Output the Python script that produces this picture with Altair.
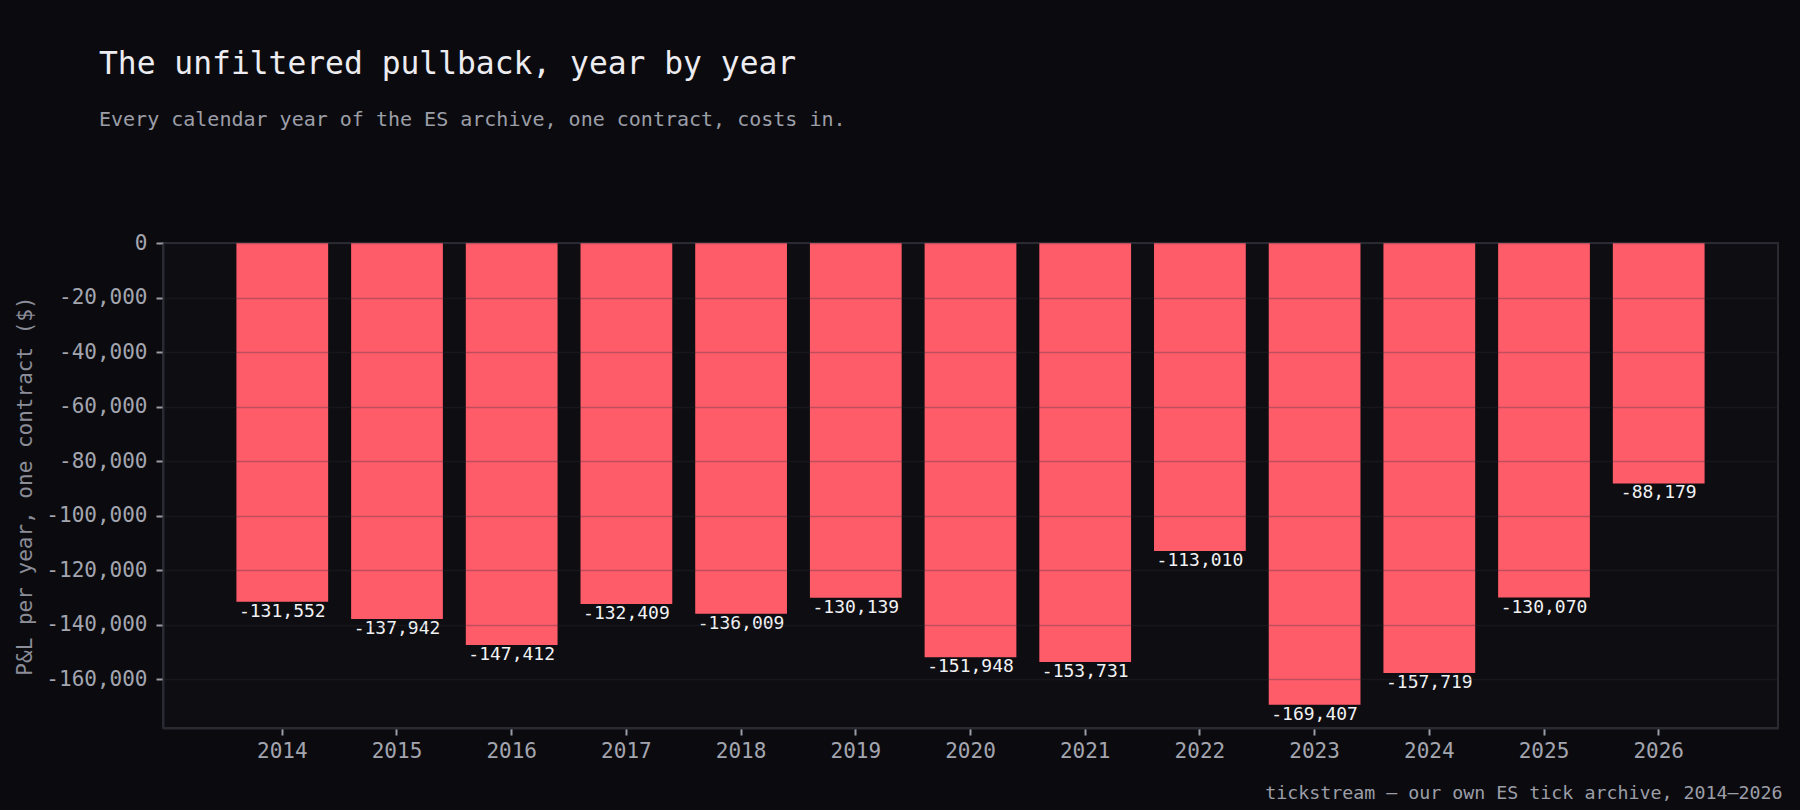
import altair as alt
import jinja2
import pandas as pd

FONT = "DejaVu Sans Mono"
BG = "#0b0b0f"

years = [2014, 2015, 2016, 2017, 2018, 2019, 2020, 2021, 2022, 2023, 2024, 2025, 2026]
pnl = [-131552, -137942, -147412, -132409, -136009, -130139, -151948,
       -153731, -113010, -169407, -157719, -130070, -88179]
y_ticks = [0, -20000, -40000, -60000, -80000, -100000, -120000, -140000, -160000]

df = pd.DataFrame({
    "year": years,
    "pnl": pnl,
    "label": [f"{v:,}" for v in pnl],
})

W, H = 1615, 485

x_enc = alt.X(
    "year:O",
    scale=alt.Scale(paddingInner=0.2, paddingOuter=0.64),
    axis=alt.Axis(
        title="tickstream \u2014 our own ES tick archive, 2014\u20132026",
        titleAnchor="end", titleAlign="right", titleBaseline="alphabetic",
        titleX=W + 4, titleY=70, titleFontSize=18.3, titleColor="#9c9ea8",
        titleFont=FONT, titleFontWeight="normal",
        labelAngle=0, labelPadding=5,
    ),
)

y_scale = alt.Scale(domain=[-177900, 0], nice=False)

bars = alt.Chart(df).mark_bar(color="#ff5c6a").encode(
    x=x_enc,
    y=alt.Y(
        "pnl:Q",
        scale=y_scale,
        axis=alt.Axis(
            values=y_ticks,
            labelExpr="replace(format(datum.value, ','), '\u2212', '-')",
            title="P&L per year, one contract ($)",
            titleFontSize=21, titleColor="#8b8d98", titleFont=FONT,
            titleFontWeight="normal", titlePadding=10,
            labelPadding=9, grid=True, zindex=1,
        ),
    ),
)

labels = alt.Chart(df).mark_text(
    baseline="top", align="center", dy=1, font=FONT, fontSize=18, color="#f2f2f4"
).encode(
    x=alt.X("year:O"),
    y=alt.Y("pnl:Q", scale=y_scale),
    text="label:N",
)

chart = (bars + labels).properties(
    width=W,
    height=H,
    autosize=alt.AutoSizeParams(type="none"),
    padding={"left": 155, "top": 235, "right": 14, "bottom": 74},
    background=BG,
    title=alt.TitleParams(
        text="The unfiltered pullback, year by year",
        subtitle="Every calendar year of the ES archive, one contract, costs in.",
        anchor="start", frame="group", dx=-64, offset=102,
        font=FONT, fontSize=31.3, fontWeight="normal", color="#ececf1",
        subtitleFont=FONT, subtitleFontSize=20, subtitleColor="#9c9ea8",
        subtitlePadding=30,
    ),
).configure_view(
    stroke="#2a2a33", strokeWidth=2, fill="#0d0d12"
).configure_axis(
    labelFont=FONT, labelFontSize=21, labelColor="#a3a5af",
    tickColor="#9a9ca6", tickSize=7, tickWidth=2,
    domainColor="#2a2a33", domainWidth=2,
    gridColor="#2c2c36", gridOpacity=0.3, gridWidth=1.5,
)

# same page as the standard template, only with a dark body behind the chart
page = jinja2.Template("""<!DOCTYPE html>
<html>
<head>
  <meta charset="UTF-8">
  <style>
    body { background: """ + BG + """; }
    #{{ output_div }}.vega-embed { width: 100%; display: flex; }
  </style>
  <script type="text/javascript" src="{{ base_url }}/vega@{{ vega_version }}"></script>
  <script type="text/javascript" src="{{ base_url }}/vega-lite@{{ vegalite_version }}"></script>
  <script type="text/javascript" src="{{ base_url }}/vega-embed@{{ vegaembed_version }}"></script>
</head>
<body>
  <div id="{{ output_div }}"></div>
  <script type="text/javascript">
    (function(vegaEmbed) {
      var spec = {{ spec }};
      var embedOpt = {{ embed_options }};
      const el = document.getElementById('{{ output_div }}');
      vegaEmbed("#{{ output_div }}", spec, embedOpt).catch(function(error) {
        el.innerHTML = '<div class="error" style="color:red;">' + error + '</div>';
      });
    })(vegaEmbed);
  </script>
</body>
</html>
""")

chart.save("out.html", embed_options={"renderer": "svg", "actions": False}, template=page)
